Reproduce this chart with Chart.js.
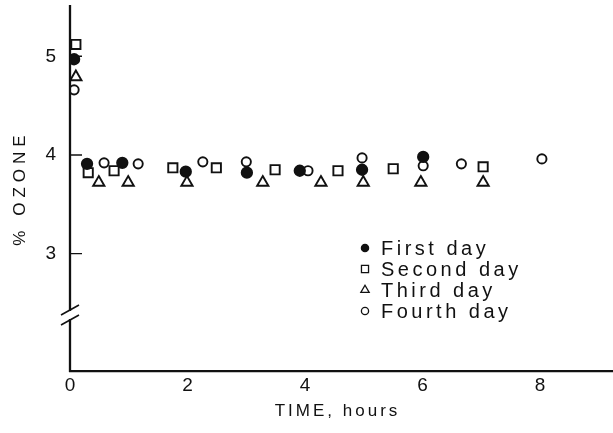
<!DOCTYPE html>
<html>
<head>
<meta charset="utf-8">
<script src="https://cdn.jsdelivr.net/npm/chart.js@4.4.1/dist/chart.umd.min.js"></script>
<style>
  html, body { margin: 0; padding: 0; background: #fff; }
  #wrap { width: 613px; height: 433px; }
</style>
</head>
<body>
<div id="wrap"><canvas id="ozoneChart" width="613" height="433"></canvas></div>
<script>
// data: time in hours, ozone in %
const firstDayT  = [0.07, 0.29, 0.89, 1.97, 3.01, 3.91, 4.97, 6.01];
const firstDayY  = [4.97, 3.91, 3.92, 3.83, 3.82, 3.84, 3.85, 3.98];
const secondDayT = [0.10, 0.31, 0.75, 1.75, 2.49, 3.49, 4.56, 5.50, 7.03];
const secondDayY = [5.12, 3.82, 3.84, 3.87, 3.87, 3.85, 3.84, 3.86, 3.88];
const thirdDayT  = [0.10, 0.49, 0.99, 1.99, 3.28, 4.27, 4.99, 5.97, 7.03];
const thirdDayY  = [4.79, 3.72, 3.72, 3.72, 3.72, 3.72, 3.72, 3.72, 3.72];
const fourthDayT = [0.07, 0.58, 1.16, 2.26, 3.00, 4.05, 4.97, 6.01, 6.66, 8.03];
const fourthDayY = [4.66, 3.92, 3.91, 3.93, 3.93, 3.84, 3.97, 3.89, 3.91, 3.96];

const xTicks = [0, 2, 4, 6, 8];
const yTicks = [3, 4, 5];
const seriesLabels = ["First day", "Second day", "Third day", "Fourth day"];
const xTitle = "TIME, hours";
const yTitle = "% OZONE";

const ink = "#111";
const fontFam = "'Liberation Sans', Arial, sans-serif";

function pts(ts, ys) { return ts.map((t, i) => ({ x: t, y: ys[i] })); }

// axis line with break, inward ticks, spaced-out titles and the inset legend
const decor = {
    id: "decor",
    afterDraw(chart) {
        const c = chart.ctx;
        const a = chart.chartArea;
        const ys = chart.scales.y;
        const x0 = a.left;
        const gapTop = a.bottom - 60, gapBot = a.bottom - 52;
        c.save();
        c.strokeStyle = ink;
        c.lineWidth = 2.3;
        c.beginPath();
        c.moveTo(x0, a.top); c.lineTo(x0, gapTop);
        c.moveTo(x0, gapBot); c.lineTo(x0, a.bottom + 1);
        c.stroke();
        c.lineWidth = 1.6;
        c.beginPath();
        c.moveTo(x0 - 9, gapTop + 4); c.lineTo(x0 + 9, gapTop - 6);
        c.moveTo(x0 - 9, gapBot + 6); c.lineTo(x0 + 9, gapBot - 4);
        c.stroke();
        c.lineWidth = 1.4;
        c.beginPath();
        yTicks.forEach(v => {
            const py = ys.getPixelForValue(v);
            c.moveTo(x0, py); c.lineTo(x0 + 12, py);
        });
        c.stroke();

        // titles
        c.fillStyle = ink;
        c.textAlign = "center";
        c.textBaseline = "middle";
        c.font = "17px " + fontFam;
        c.letterSpacing = "3px";
        c.fillText(xTitle, (a.left + a.right) / 2 - 4, a.bottom + 40);
        c.save();
        c.translate(20, (a.top + a.bottom) / 2);
        c.rotate(-Math.PI / 2);
        c.letterSpacing = "5px";
        c.fillText(yTitle, 0, 0);
        c.restore();

        // legend
        const lx = a.left + 295, ly = a.top + 243, step = 21;
        c.font = "20px " + fontFam;
        c.letterSpacing = "3.5px";
        c.textAlign = "left";
        chart.data.datasets.forEach((ds, i) => {
            const yy = ly + i * step;
            const r = ds.pointStyle === "triangle" ? 4.8 : ds.pointStyle === "rect" ? 5 : 3.6;
            c.fillStyle = ds.pointBackgroundColor;
            c.strokeStyle = ink;
            c.lineWidth = 1.3;
            Chart.helpers.drawPoint(c, { pointStyle: ds.pointStyle, radius: r, borderWidth: 1.3 }, lx, yy);
            c.fillStyle = ink;
            c.fillText(ds.label, lx + 16, yy + 1);
        });
        c.restore();
    }
};

function styled(label, data, style, filled, r) {
    return {
        label: label,
        data: data,
        pointStyle: style,
        pointRadius: r,
        pointBorderWidth: 1.9,
        pointBorderColor: ink,
        pointBackgroundColor: filled ? ink : "#fff",
        borderColor: ink,
        showLine: false
    };
}

function noPad(s) {
    s.paddingTop = 0; s.paddingBottom = 0;
    s.paddingLeft = 0; s.paddingRight = 0;
}

new Chart(document.getElementById("ozoneChart"), {
    type: "scatter",
    data: {
        datasets: [
            styled(seriesLabels[0], pts(firstDayT, firstDayY), "circle", true, 5.2),
            styled(seriesLabels[1], pts(secondDayT, secondDayY), "rect", false, 6.5),
            styled(seriesLabels[2], pts(thirdDayT, thirdDayY), "triangle", false, 6.5),
            styled(seriesLabels[3], pts(fourthDayT, fourthDayY), "circle", false, 4.6)
        ]
    },
    options: {
        responsive: false,
        animation: false,
        layout: { autoPadding: false, padding: { top: 5, right: 0, left: 0, bottom: 0 } },
        plugins: {
            legend: { display: false },
            tooltip: { enabled: false }
        },
        scales: {
            x: {
                type: "linear",
                min: 0,
                max: 9.24,
                afterBuildTicks: s => { s.ticks = xTicks.map(v => ({ value: v })); },
                afterFit: s => { s.height = 62; noPad(s); },
                grid: { display: false, drawTicks: false },
                border: { display: true, color: ink, width: 2.3 },
                ticks: {
                    color: ink, padding: 3, maxRotation: 0,
                    font: { family: fontFam, size: 19 }
                },
                title: { display: false }
            },
            y: {
                type: "linear",
                min: 1.81,
                max: 5.52,
                afterBuildTicks: s => { s.ticks = yTicks.map(v => ({ value: v })); },
                afterFit: s => { s.width = 70; noPad(s); },
                grid: { display: false, drawTicks: false },
                border: { display: false },
                ticks: {
                    color: ink, padding: 14,
                    font: { family: fontFam, size: 19 }
                },
                title: { display: false }
            }
        }
    },
    plugins: [decor]
});
</script>
</body>
</html>
